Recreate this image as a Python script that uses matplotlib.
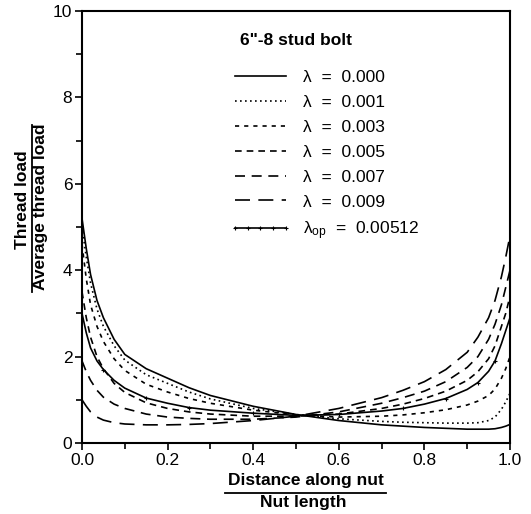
import matplotlib
matplotlib.use("Agg")
import matplotlib.pyplot as plt
from matplotlib.lines import Line2D
from matplotlib.ticker import MultipleLocator

plt.rcParams['font.family'] = ['Liberation Sans', 'DejaVu Sans']
plt.rcParams['mathtext.fontset'] = 'custom'
plt.rcParams['mathtext.rm'] = 'Liberation Sans'
plt.rcParams['mathtext.it'] = 'Liberation Sans:italic'
plt.rcParams['mathtext.bf'] = 'Liberation Sans:bold'

# ---- data ----
x = [0, .01, .02, .035, .05, .075, .1, .15, .2, .25, .3, .4, .5, .6, .7, .75,
     .8, .85, .9, .925, .95, .965, .98, .99, 1.0]

lam_000 = [5.2, 4.5, 3.9, 3.3, 2.9, 2.4, 2.05, 1.72, 1.5, 1.28, 1.1, 0.85, 0.66, 0.52, 0.42, 0.39,
           0.36, 0.34, 0.32, 0.32, 0.32, 0.33, 0.36, 0.39, 0.43]
lam_001 = [5.0, 4.3, 3.7, 3.1, 2.7, 2.25, 1.92, 1.58, 1.38, 1.18, 1.02, 0.8, 0.66, 0.56, 0.5, 0.48,
           0.47, 0.46, 0.46, 0.47, 0.52, 0.6, 0.78, 0.95, 1.15]
lam_003 = [4.6, 3.8, 3.2, 2.7, 2.35, 1.95, 1.68, 1.36, 1.18, 1.03, 0.92, 0.76, 0.65, 0.6, 0.62, 0.65,
           0.7, 0.77, 0.88, 0.97, 1.1, 1.25, 1.5, 1.72, 2.0]
lam_005 = [3.5, 2.9, 2.45, 2.0, 1.72, 1.38, 1.17, 0.93, 0.8, 0.72, 0.67, 0.62, 0.62, 0.67, 0.8, 0.9,
           1.03, 1.2, 1.45, 1.65, 1.95, 2.25, 2.7, 3.0, 3.4]
lam_007 = [1.9, 1.65, 1.45, 1.22, 1.06, 0.9, 0.8, 0.67, 0.6, 0.57, 0.55, 0.55, 0.6, 0.72, 0.92, 1.05,
           1.2, 1.42, 1.75, 2.0, 2.4, 2.75, 3.2, 3.6, 4.0]
lam_009 = [1.0, 0.85, 0.72, 0.6, 0.53, 0.47, 0.44, 0.42, 0.42, 0.43, 0.45, 0.52, 0.62, 0.8, 1.05, 1.22,
           1.42, 1.7, 2.1, 2.45, 2.9, 3.3, 3.85, 4.3, 4.8]
lam_op = [3.0, 2.55, 2.2, 1.9, 1.7, 1.45, 1.27, 1.04, 0.92, 0.82, 0.76, 0.69, 0.64, 0.66, 0.74, 0.8,
          0.9, 1.03, 1.24, 1.4, 1.66, 1.9, 2.3, 2.6, 2.9]

labels = ["λ  =  0.000", "λ  =  0.001", "λ  =  0.003", "λ  =  0.005",
          "λ  =  0.007", "λ  =  0.009", r"λ$_{\mathrm{op}}$  =  0.00512"]
title = '6"-8 stud bolt'
xticks = [0.0, 0.2, 0.4, 0.6, 0.8, 1.0]
yticks = [0, 2, 4, 6, 8, 10]

# ---- figure ----
W, H = 531, 514
fig = plt.figure(figsize=(W / 100, H / 100), dpi=100)
ax = fig.add_axes([82 / W, 1 - 443 / H, 428 / W, 432 / H])

lw = 1.2
series = [lam_000, lam_001, lam_003, lam_005, lam_007, lam_009]
styles = ['-', (0, (1.0, 2.0)), (0, (2.5, 3)), (0, (4, 3)), (0, (6, 4)), (0, (9, 5))]
handles = []
for s, ls, lab in zip(series, styles, labels[:6]):
    ax.plot(x, s, color='black', lw=lw, linestyle=ls)
    handles.append(Line2D([], [], color='black', lw=lw, linestyle=ls, label=lab))
ax.plot(x, lam_op, color='black', lw=lw, linestyle='-', marker='+', markersize=3.5,
        markeredgewidth=0.8, markevery=[4, 7, 9, 11, 13, 15, 17, 19, 21])
handles.append(Line2D([], [], color='black', lw=lw, linestyle='-', marker='+', markersize=3.5,
                      markeredgewidth=0.8, label=labels[6]))

ax.set_xlim(0, 1)
ax.set_ylim(0, 10)
ax.set_xticks(xticks)
ax.set_xticklabels([f"{t:.1f}" for t in xticks])
ax.set_yticks(yticks)
ax.xaxis.set_minor_locator(MultipleLocator(0.1))
ax.yaxis.set_minor_locator(MultipleLocator(1))
ax.tick_params(which='both', direction='out', width=1.2, labelsize=12.5, pad=2)
ax.tick_params(which='major', length=5)
ax.tick_params(which='minor', length=4)
for sp in ax.spines.values():
    sp.set_linewidth(1.5)

leg = ax.legend(handles=handles, loc='upper left',
                bbox_to_anchor=((230 - 82) / 428, (443 - 70) / 432),
                frameon=False, fontsize=12.5, handlelength=3.5, handletextpad=0.7,
                labelspacing=0.56, borderpad=0, borderaxespad=0, numpoints=5)

fig.text(240 / W, 1 - 41 / H, title, fontsize=12.5, fontweight='bold', ha='left', va='center')

# x label as fraction
fig.text(306 / W, 1 - 481 / H, "Distance along nut", fontsize=12.5, fontweight='bold',
         ha='center', va='center')
fig.text(303 / W, 1 - 503 / H, "Nut length", fontsize=12.5, fontweight='bold',
         ha='center', va='center')
fig.add_artist(Line2D([225 / W, 386 / W], [1 - 493 / H, 1 - 493 / H], color='black', lw=1.3,
                      transform=fig.transFigure))

# y label as fraction
fig.text(23 / W, 1 - 200 / H, "Thread load", fontsize=12.5, fontweight='bold',
         ha='center', va='center', rotation=90)
fig.text(41 / W, 1 - 207 / H, "Average thread load", fontsize=12.5, fontweight='bold',
         ha='center', va='center', rotation=90)
fig.add_artist(Line2D([32 / W, 32 / W], [1 - 125 / H, 1 - 292 / H], color='black', lw=1.3,
                      transform=fig.transFigure))

fig.savefig("out.png", dpi=100)
